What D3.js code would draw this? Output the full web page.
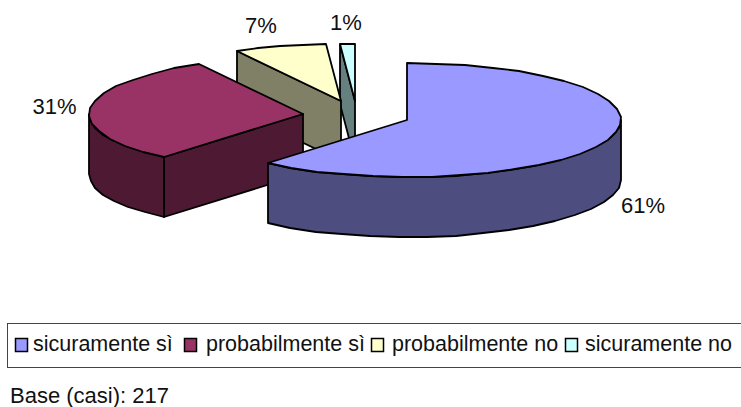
<!DOCTYPE html>
<html><head><meta charset="utf-8">
<script src="https://cdn.jsdelivr.net/npm/d3@7/dist/d3.min.js"></script>
<style>html,body{margin:0;padding:0;background:#fff}svg{display:block}text{font-family:"Liberation Sans",Arial,sans-serif;fill:#111}</style>
</head><body><svg id="c" width="741" height="407"></svg>
<script>
const categories = ["sicuramente sì","probabilmente sì","probabilmente no","sicuramente no"];
const values = [61.3,30.6,7.0,1.1];
const labels = ["61%","31%","7%","1%"];
const baseNote = "Base (casi): 217";
const topColors = ["#9999FF","#993366","#FFFFCC","#CCFFFF"];
const sideColors = ["#4D4D80","#4D1933","#808066","#668080"];

const layout = {
  rx:214, ry:57, depth:60,
  apex:[[407,120],[303,114],[341,101],[355,101]],
  labelPos:[[643,213],[54.5,114],[261,33],[346,30]],
  legendX:[15,184,371,565],
  legendTextX:[33,206,392,585]
};
const svg = d3.select("#c");
const pie = d3.pie().sort(null).value(d=>d)(values);
const angleX = d3.scaleLinear().domain([-1,1]).range([-layout.rx,layout.rx]);
const angleY = d3.scaleLinear().domain([-1,1]).range([-layout.ry,layout.ry]);
const line = d3.line();
const STEP = 0.14;
function rimPts(i,a0,a1,dy){
  const [cx,cy]=layout.apex[i];
  const n=Math.max(1,Math.ceil((a1-a0)/STEP));
  return d3.range(n+1).map(k=>{
    const a=a0+(a1-a0)*k/n;
    return [Math.round(cx+angleX(Math.sin(a))),Math.round(cy-angleY(Math.cos(a))+dy)];
  });
}
function draw(pts,fill){
  svg.append("path").attr("d",line(pts)+"Z").attr("fill",fill)
    .attr("stroke","#000").attr("stroke-width",1.8).attr("stroke-linejoin","round");
}
function ptAt(i,a,dy){return rimPts(i,a,a,dy)[0];}
[3,2,1,0].forEach(i=>{
  const s=pie[i], a0=s.startAngle, a1=s.endAngle, d=layout.depth, ap=layout.apex[i];
  const apexDown=[ap[0],ap[1]+d];
  if(i>0) draw([ap,ptAt(i,a0,0),ptAt(i,a0,d),apexDown],sideColors[i]);
  const wallStart=Math.max(a0,Math.PI/2), wallEnd=Math.min(a1,Math.PI*1.5);
  if(wallEnd>wallStart){
    const up=rimPts(i,wallStart,wallEnd,0), dn=rimPts(i,wallStart,wallEnd,d).reverse();
    draw(up.concat(dn),sideColors[i]);
  }
  draw([ap].concat(rimPts(i,a0,a1,0)),topColors[i]);
});
labels.forEach((t,i)=>svg.append("text").attr("x",layout.labelPos[i][0]).attr("y",layout.labelPos[i][1])
  .attr("text-anchor","middle").attr("font-size",22).text(t));
svg.append("rect").attr("x",7.5).attr("y",323.5).attr("width",740).attr("height",44)
  .attr("fill","#fff").attr("stroke","#444").attr("stroke-width",1);
categories.forEach((c,i)=>{
  const x=layout.legendX[i];
  svg.append("rect").attr("x",x+.5).attr("y",338.5).attr("width",12).attr("height",13)
    .attr("fill",topColors[i]).attr("stroke","#000").attr("stroke-width",1.5);
  svg.append("text").attr("x",layout.legendTextX[i]).attr("y",351).attr("font-size",21.5).text(c);
});
svg.append("text").attr("x",10).attr("y",403).attr("font-size",22).text(baseNote);
</script></body></html>
